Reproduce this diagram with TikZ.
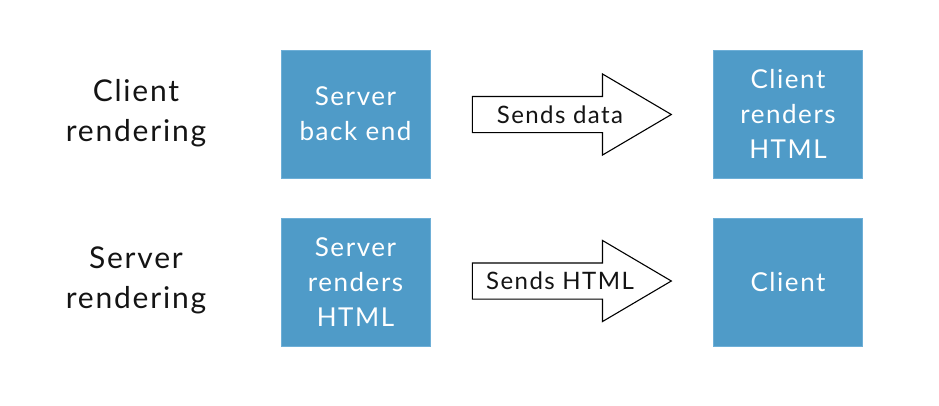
\documentclass[tikz,border=0pt]{standalone}
\usepackage{fontspec}
\setmainfont{Lato}[LetterSpace=6]
\usetikzlibrary{shapes.arrows}
\definecolor{boxblue}{RGB}{79,155,200}
\definecolor{boxedge}{RGB}{110,175,215}
\definecolor{txtdark}{RGB}{20,20,20}
\tikzset{
  bluebox/.style={draw=boxedge, line width=0.8pt, fill=boxblue, minimum width=149pt, minimum height=128pt,
    inner sep=0pt, text=white, align=center, font=\fontsize{26}{35}\selectfont},
  rowlabel/.style={align=center, text=txtdark, font=\fontsize{30}{40}\selectfont},
  bigarrow/.style={single arrow, draw=black, line width=1.1pt, fill=white, minimum height=199pt,
    inner xsep=1pt, inner ysep=17.5pt, single arrow head extend=22.5pt, single arrow tip angle=61,
    single arrow head indent=0pt},
  arrowtext/.style={text=txtdark, font=\fontsize{24}{30}\selectfont}
}
\begin{document}
\begin{tikzpicture}[x=1pt,y=-1pt]
\useasboundingbox (0,0) rectangle (939,405);
\node[rowlabel] (l1) at (136,113) {Client\\rendering};
\node[rowlabel] (l2) at (136,280) {Server\\rendering};
\node[bluebox] (b1) at (355.5,114) {Server\\back end};
\node[bluebox] (b2) at (355.5,282.5) {Server\\renders\\HTML};
\node[bluebox] (c1) at (788,114) {Client\\renders\\HTML};
\node[bluebox] (c2) at (788,282.5) {Client};
\node[bigarrow] (a1) at (556.5,114.5) {};
\node[bigarrow] (a2) at (556.5,281) {};
\node[arrowtext] (t1) at (560,114.5) {Sends data};
\node[arrowtext] (t2) at (560,281) {Sends HTML};
\end{tikzpicture}
\end{document}
